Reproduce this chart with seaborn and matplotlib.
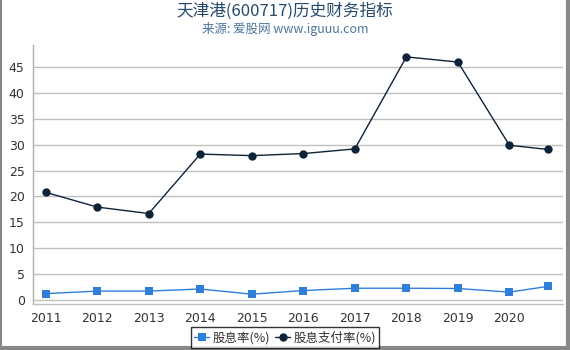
import matplotlib
matplotlib.use("Agg")
import matplotlib.pyplot as plt
import seaborn as sns
import pandas as pd
from matplotlib.lines import Line2D

years = [2011, 2012, 2013, 2014, 2015, 2016, 2017, 2018, 2019, 2020, 2020.745]
tick_years = [2011, 2012, 2013, 2014, 2015, 2016, 2017, 2018, 2019, 2020]
dividend_yield = [1.2, 1.7, 1.7, 2.1, 1.1, 1.8, 2.25, 2.25, 2.2, 1.5, 2.6]
payout_ratio = [20.8, 17.95, 16.7, 28.2, 27.9, 28.3, 29.2, 47.0, 46.0, 29.9, 29.1]
series_names = ["股息率(%)", "股息支付率(%)"]
colors = ["#2f7ed8", "#0d233a"]

df = pd.DataFrame({
    "x": years * 2,
    "y": dividend_yield + payout_ratio,
    "series": [series_names[0]] * len(years) + [series_names[1]] * len(years),
})

sns.set_theme(style="white")
plt.rcParams["font.family"] = ["Noto Sans CJK SC", "DejaVu Sans"]

fig = plt.figure(figsize=(5.7, 3.5), dpi=100)
ax = fig.add_axes([33 / 570, 1 - 304 / 350, 530 / 570, 259 / 350])

sns.lineplot(data=df, x="x", y="y", hue="series", style="series",
             palette=colors, markers=["s", "o"], dashes=False,
             markersize=6, linewidth=1, markeredgewidth=0, ax=ax, legend=False)

ax.set_xlim(2010.753, 2021.04)
ax.set_ylim(-0.8, 49.3)
ax.set_yticks(range(0, 50, 5))
ax.set_xticks(tick_years)
ax.set_xticklabels([str(y) for y in tick_years], family="DejaVu Sans")
ax.set_yticklabels([str(v) for v in range(0, 50, 5)], family="DejaVu Sans")
ax.set_xlabel("")
ax.set_ylabel("")
ax.yaxis.grid(True, color="#c0c0c0", linewidth=1)
ax.set_axisbelow(True)
for s in ["top", "right"]:
    ax.spines[s].set_visible(False)
ax.spines["left"].set_color("#b0b0b0")
ax.spines["bottom"].set_color("#c0c0c0")
ax.spines["left"].set_linewidth(1)
ax.spines["bottom"].set_linewidth(1)
ax.tick_params(axis="both", labelsize=9, labelcolor="#333333", colors="#c0c0c0",
               length=4, width=1, pad=2)
for lab in ax.get_xticklabels() + ax.get_yticklabels():
    lab.set_color("#333333")

fig.text(0.5, 0.968, "天津港(600717)历史财务指标", ha="center", va="center",
         fontsize=12, color="#274b6d")
fig.text(0.5, 0.918, "来源: 爱股网 www.iguuu.com", ha="center", va="center",
         fontsize=9, color="#4d759e")

handles = [Line2D([0], [0], color=colors[0], marker="s", markersize=6, markeredgewidth=0, linewidth=1),
           Line2D([0], [0], color=colors[1], marker="o", markersize=6, markeredgewidth=0, linewidth=1)]
leg = fig.legend(handles, series_names, loc="lower center", bbox_to_anchor=(0.5, 0.005),
                 ncol=2, frameon=True, fancybox=False, fontsize=9, handlelength=1.2,
                 handletextpad=0.25, columnspacing=0.4, borderpad=0.3, borderaxespad=0)
leg.get_frame().set_edgecolor("black")
leg.get_frame().set_linewidth(1)
for t in leg.get_texts():
    t.set_color("#333333")

# figure border
fig.add_artist(Line2D([0.001, 0.001], [0, 1], color="#888888", linewidth=1.5, transform=fig.transFigure))
fig.add_artist(Line2D([0.996, 0.996], [0, 1], color="#888888", linewidth=3, transform=fig.transFigure))
fig.add_artist(Line2D([0, 1], [0.005, 0.005], color="#888888", linewidth=3, transform=fig.transFigure))

fig.savefig("out.png", dpi=100)
